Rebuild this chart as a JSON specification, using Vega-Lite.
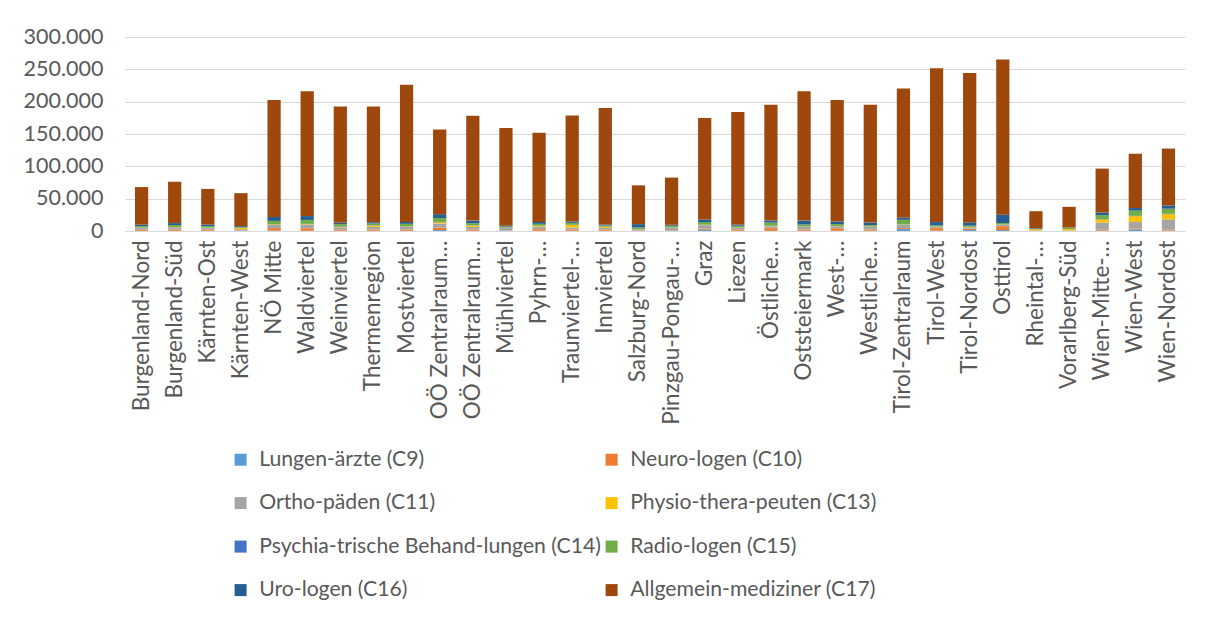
{
  "$schema": "https://vega.github.io/schema/vega-lite/v6.json",
  "width": 1060,
  "height": 194,
  "autosize": "none",
  "padding": {"left": 125, "top": 37, "right": 27, "bottom": 393},
  "background": "white",
  "config": {
    "font": "Lato",
    "view": {"stroke": null},
    "axis": {"labelFont": "Lato", "labelColor": "#595959", "labelFontSize": 21.5}
  },
  "datasets": {
    "cats": [
      {"cat": "Lungen-ärzte (C9)", "rank": 1},
      {"cat": "Neuro-logen (C10)", "rank": 2},
      {"cat": "Ortho-päden (C11)", "rank": 3},
      {"cat": "Physio-thera-peuten (C13)", "rank": 4},
      {"cat": "Psychia-trische Behand-lungen (C14)", "rank": 5},
      {"cat": "Radio-logen (C15)", "rank": 6},
      {"cat": "Uro-logen (C16)", "rank": 7},
      {"cat": "Allgemein-mediziner (C17)", "rank": 8}
    ]
  },
  "data": {
    "values": [
      {"r": "Burgenland-Nord", "Lungen-ärzte (C9)": 300, "Neuro-logen (C10)": 1800, "Ortho-päden (C11)": 2500, "Physio-thera-peuten (C13)": 500, "Psychia-trische Behand-lungen (C14)": 300, "Radio-logen (C15)": 2000, "Uro-logen (C16)": 2500, "Allgemein-mediziner (C17)": 58000},
      {"r": "Burgenland-Süd", "Lungen-ärzte (C9)": 300, "Neuro-logen (C10)": 2000, "Ortho-päden (C11)": 3000, "Physio-thera-peuten (C13)": 600, "Psychia-trische Behand-lungen (C14)": 300, "Radio-logen (C15)": 3000, "Uro-logen (C16)": 3000, "Allgemein-mediziner (C17)": 64000},
      {"r": "Kärnten-Ost", "Lungen-ärzte (C9)": 300, "Neuro-logen (C10)": 2000, "Ortho-päden (C11)": 2500, "Physio-thera-peuten (C13)": 500, "Psychia-trische Behand-lungen (C14)": 300, "Radio-logen (C15)": 2000, "Uro-logen (C16)": 2500, "Allgemein-mediziner (C17)": 55000},
      {"r": "Kärnten-West", "Lungen-ärzte (C9)": 300, "Neuro-logen (C10)": 500, "Ortho-päden (C11)": 2000, "Physio-thera-peuten (C13)": 2000, "Psychia-trische Behand-lungen (C14)": 200, "Radio-logen (C15)": 1000, "Uro-logen (C16)": 1500, "Allgemein-mediziner (C17)": 51000},
      {"r": "NÖ Mitte", "Lungen-ärzte (C9)": 500, "Neuro-logen (C10)": 4000, "Ortho-päden (C11)": 5000, "Physio-thera-peuten (C13)": 800, "Psychia-trische Behand-lungen (C14)": 300, "Radio-logen (C15)": 5000, "Uro-logen (C16)": 6000, "Allgemein-mediziner (C17)": 181000},
      {"r": "Waldviertel", "Lungen-ärzte (C9)": 300, "Neuro-logen (C10)": 4000, "Ortho-päden (C11)": 6000, "Physio-thera-peuten (C13)": 500, "Psychia-trische Behand-lungen (C14)": 300, "Radio-logen (C15)": 6000, "Uro-logen (C16)": 6000, "Allgemein-mediziner (C17)": 193000},
      {"r": "Weinviertel", "Lungen-ärzte (C9)": 300, "Neuro-logen (C10)": 2000, "Ortho-päden (C11)": 3500, "Physio-thera-peuten (C13)": 500, "Psychia-trische Behand-lungen (C14)": 300, "Radio-logen (C15)": 4000, "Uro-logen (C16)": 2000, "Allgemein-mediziner (C17)": 180000},
      {"r": "Thermenregion", "Lungen-ärzte (C9)": 300, "Neuro-logen (C10)": 2000, "Ortho-päden (C11)": 4000, "Physio-thera-peuten (C13)": 2000, "Psychia-trische Behand-lungen (C14)": 300, "Radio-logen (C15)": 3000, "Uro-logen (C16)": 2000, "Allgemein-mediziner (C17)": 179000},
      {"r": "Mostviertel", "Lungen-ärzte (C9)": 300, "Neuro-logen (C10)": 2000, "Ortho-päden (C11)": 4000, "Physio-thera-peuten (C13)": 500, "Psychia-trische Behand-lungen (C14)": 300, "Radio-logen (C15)": 4000, "Uro-logen (C16)": 3000, "Allgemein-mediziner (C17)": 212000},
      {"r": "OÖ Zentralraum Linz", "Lungen-ärzte (C9)": 1500, "Neuro-logen (C10)": 4000, "Ortho-päden (C11)": 6000, "Physio-thera-peuten (C13)": 2000, "Psychia-trische Behand-lungen (C14)": 500, "Radio-logen (C15)": 6000, "Uro-logen (C16)": 6000, "Allgemein-mediziner (C17)": 131000},
      {"r": "OÖ Zentralraum Wels", "Lungen-ärzte (C9)": 300, "Neuro-logen (C10)": 2000, "Ortho-päden (C11)": 4000, "Physio-thera-peuten (C13)": 2000, "Psychia-trische Behand-lungen (C14)": 300, "Radio-logen (C15)": 3500, "Uro-logen (C16)": 4000, "Allgemein-mediziner (C17)": 162000},
      {"r": "Mühlviertel", "Lungen-ärzte (C9)": 200, "Neuro-logen (C10)": 500, "Ortho-päden (C11)": 4000, "Physio-thera-peuten (C13)": 300, "Psychia-trische Behand-lungen (C14)": 200, "Radio-logen (C15)": 1500, "Uro-logen (C16)": 1500, "Allgemein-mediziner (C17)": 151000},
      {"r": "Pyhrn-Eisenwurzen", "Lungen-ärzte (C9)": 300, "Neuro-logen (C10)": 2500, "Ortho-päden (C11)": 4000, "Physio-thera-peuten (C13)": 1000, "Psychia-trische Behand-lungen (C14)": 300, "Radio-logen (C15)": 3000, "Uro-logen (C16)": 3000, "Allgemein-mediziner (C17)": 138000},
      {"r": "Traunviertel-Salzkammergut", "Lungen-ärzte (C9)": 300, "Neuro-logen (C10)": 2000, "Ortho-päden (C11)": 3000, "Physio-thera-peuten (C13)": 4000, "Psychia-trische Behand-lungen (C14)": 300, "Radio-logen (C15)": 3000, "Uro-logen (C16)": 2000, "Allgemein-mediziner (C17)": 164000},
      {"r": "Innviertel", "Lungen-ärzte (C9)": 300, "Neuro-logen (C10)": 2000, "Ortho-päden (C11)": 2500, "Physio-thera-peuten (C13)": 1500, "Psychia-trische Behand-lungen (C14)": 300, "Radio-logen (C15)": 2000, "Uro-logen (C16)": 1500, "Allgemein-mediziner (C17)": 180000},
      {"r": "Salzburg-Nord", "Lungen-ärzte (C9)": 300, "Neuro-logen (C10)": 500, "Ortho-päden (C11)": 1500, "Physio-thera-peuten (C13)": 500, "Psychia-trische Behand-lungen (C14)": 300, "Radio-logen (C15)": 2500, "Uro-logen (C16)": 5000, "Allgemein-mediziner (C17)": 60000},
      {"r": "Pinzgau-Pongau-Lungau", "Lungen-ärzte (C9)": 300, "Neuro-logen (C10)": 500, "Ortho-päden (C11)": 4000, "Physio-thera-peuten (C13)": 500, "Psychia-trische Behand-lungen (C14)": 300, "Radio-logen (C15)": 2500, "Uro-logen (C16)": 1500, "Allgemein-mediziner (C17)": 73000},
      {"r": "Graz", "Lungen-ärzte (C9)": 2000, "Neuro-logen (C10)": 2000, "Ortho-päden (C11)": 5000, "Physio-thera-peuten (C13)": 500, "Psychia-trische Behand-lungen (C14)": 300, "Radio-logen (C15)": 4000, "Uro-logen (C16)": 4000, "Allgemein-mediziner (C17)": 157000},
      {"r": "Liezen", "Lungen-ärzte (C9)": 300, "Neuro-logen (C10)": 2000, "Ortho-päden (C11)": 2500, "Physio-thera-peuten (C13)": 500, "Psychia-trische Behand-lungen (C14)": 300, "Radio-logen (C15)": 2500, "Uro-logen (C16)": 2000, "Allgemein-mediziner (C17)": 174000},
      {"r": "Östliche Obersteiermark", "Lungen-ärzte (C9)": 300, "Neuro-logen (C10)": 4000, "Ortho-päden (C11)": 3000, "Physio-thera-peuten (C13)": 500, "Psychia-trische Behand-lungen (C14)": 300, "Radio-logen (C15)": 5000, "Uro-logen (C16)": 3000, "Allgemein-mediziner (C17)": 179000},
      {"r": "Oststeiermark", "Lungen-ärzte (C9)": 300, "Neuro-logen (C10)": 2000, "Ortho-päden (C11)": 4000, "Physio-thera-peuten (C13)": 500, "Psychia-trische Behand-lungen (C14)": 300, "Radio-logen (C15)": 3000, "Uro-logen (C16)": 6000, "Allgemein-mediziner (C17)": 200000},
      {"r": "West-/Südsteiermark", "Lungen-ärzte (C9)": 300, "Neuro-logen (C10)": 4000, "Ortho-päden (C11)": 2500, "Physio-thera-peuten (C13)": 500, "Psychia-trische Behand-lungen (C14)": 300, "Radio-logen (C15)": 3000, "Uro-logen (C16)": 4000, "Allgemein-mediziner (C17)": 188000},
      {"r": "Westliche Obersteiermark", "Lungen-ärzte (C9)": 300, "Neuro-logen (C10)": 2000, "Ortho-päden (C11)": 4000, "Physio-thera-peuten (C13)": 500, "Psychia-trische Behand-lungen (C14)": 300, "Radio-logen (C15)": 2000, "Uro-logen (C16)": 4000, "Allgemein-mediziner (C17)": 182000},
      {"r": "Tirol-Zentralraum", "Lungen-ärzte (C9)": 3000, "Neuro-logen (C10)": 1500, "Ortho-päden (C11)": 5000, "Physio-thera-peuten (C13)": 500, "Psychia-trische Behand-lungen (C14)": 300, "Radio-logen (C15)": 7000, "Uro-logen (C16)": 3000, "Allgemein-mediziner (C17)": 200000},
      {"r": "Tirol-West", "Lungen-ärzte (C9)": 500, "Neuro-logen (C10)": 4000, "Ortho-päden (C11)": 1500, "Physio-thera-peuten (C13)": 500, "Psychia-trische Behand-lungen (C14)": 300, "Radio-logen (C15)": 2000, "Uro-logen (C16)": 5000, "Allgemein-mediziner (C17)": 238000},
      {"r": "Tirol-Nordost", "Lungen-ärzte (C9)": 1500, "Neuro-logen (C10)": 2000, "Ortho-päden (C11)": 2000, "Physio-thera-peuten (C13)": 500, "Psychia-trische Behand-lungen (C14)": 300, "Radio-logen (C15)": 2000, "Uro-logen (C16)": 5000, "Allgemein-mediziner (C17)": 231000},
      {"r": "Osttirol", "Lungen-ärzte (C9)": 1500, "Neuro-logen (C10)": 6000, "Ortho-päden (C11)": 2000, "Physio-thera-peuten (C13)": 500, "Psychia-trische Behand-lungen (C14)": 300, "Radio-logen (C15)": 2000, "Uro-logen (C16)": 13000, "Allgemein-mediziner (C17)": 240000},
      {"r": "Rheintal-Bregenzerwald", "Lungen-ärzte (C9)": 200, "Neuro-logen (C10)": 200, "Ortho-päden (C11)": 500, "Physio-thera-peuten (C13)": 2000, "Psychia-trische Behand-lungen (C14)": 200, "Radio-logen (C15)": 500, "Uro-logen (C16)": 1000, "Allgemein-mediziner (C17)": 26000},
      {"r": "Vorarlberg-Süd", "Lungen-ärzte (C9)": 200, "Neuro-logen (C10)": 200, "Ortho-päden (C11)": 500, "Physio-thera-peuten (C13)": 2000, "Psychia-trische Behand-lungen (C14)": 200, "Radio-logen (C15)": 2000, "Uro-logen (C16)": 300, "Allgemein-mediziner (C17)": 32000},
      {"r": "Wien-Mitte-Südost", "Lungen-ärzte (C9)": 500, "Neuro-logen (C10)": 1500, "Ortho-päden (C11)": 11000, "Physio-thera-peuten (C13)": 5000, "Psychia-trische Behand-lungen (C14)": 500, "Radio-logen (C15)": 6000, "Uro-logen (C16)": 4000, "Allgemein-mediziner (C17)": 68000},
      {"r": "Wien-West", "Lungen-ärzte (C9)": 2500, "Neuro-logen (C10)": 1500, "Ortho-päden (C11)": 10000, "Physio-thera-peuten (C13)": 9000, "Psychia-trische Behand-lungen (C14)": 500, "Radio-logen (C15)": 8000, "Uro-logen (C16)": 4000, "Allgemein-mediziner (C17)": 84000},
      {"r": "Wien-Nordost", "Lungen-ärzte (C9)": 500, "Neuro-logen (C10)": 1500, "Ortho-päden (C11)": 16000, "Physio-thera-peuten (C13)": 8000, "Psychia-trische Behand-lungen (C14)": 500, "Radio-logen (C15)": 8000, "Uro-logen (C16)": 5000, "Allgemein-mediziner (C17)": 88000}
    ]
  },
  "transform": [
    {"fold": ["Lungen-ärzte (C9)", "Neuro-logen (C10)", "Ortho-päden (C11)", "Physio-thera-peuten (C13)", "Psychia-trische Behand-lungen (C14)", "Radio-logen (C15)", "Uro-logen (C16)", "Allgemein-mediziner (C17)"], "as": ["cat", "value"]},
    {"lookup": "cat", "from": {"data": {"name": "cats"}, "key": "cat", "fields": ["rank"]}}
  ],
  "mark": {"type": "bar"},
  "encoding": {
    "x": {
      "field": "r", "type": "nominal", "sort": null,
      "scale": {"paddingInner": 0.6, "paddingOuter": 0.3},
      "axis": {
        "title": null, "labelAngle": -90, "labelPadding": 9, "ticks": false,
        "labelFontSize": 22.5,
        "domainColor": "#D9D9D9", "labelLimit": 400, "labelOverlap": false,
        "labelExpr": "({'OÖ Zentralraum Linz':'OÖ Zentralraum…','OÖ Zentralraum Wels':'OÖ Zentralraum…','Pyhrn-Eisenwurzen':'Pyhrn-…','Traunviertel-Salzkammergut':'Traunviertel-…','Pinzgau-Pongau-Lungau':'Pinzgau-Pongau-…','Östliche Obersteiermark':'Östliche…','West-/Südsteiermark':'West-…','Westliche Obersteiermark':'Westliche…','Rheintal-Bregenzerwald':'Rheintal-…','Wien-Mitte-Südost':'Wien-Mitte-…'})[datum.value] || datum.label"
      }
    },
    "y": {
      "field": "value", "type": "quantitative", "stack": "zero",
      "scale": {"domain": [0, 300000]},
      "axis": {
        "title": null, "values": [0, 50000, 100000, 150000, 200000, 250000, 300000],
        "domain": false, "ticks": false, "labelPadding": 22, "labelOverlap": false,
        "gridColor": "#D9D9D9",
        "labelExpr": "replace(format(datum.value, ','), ',', '.')"
      }
    },
    "order": {"field": "rank", "type": "quantitative", "sort": "ascending"},
    "color": {
      "field": "cat", "type": "nominal",
      "scale": {
        "domain": ["Lungen-ärzte (C9)", "Neuro-logen (C10)", "Ortho-päden (C11)", "Physio-thera-peuten (C13)", "Psychia-trische Behand-lungen (C14)", "Radio-logen (C15)", "Uro-logen (C16)", "Allgemein-mediziner (C17)"],
        "range": ["#5B9BD5", "#ED7D31", "#A5A5A5", "#FFC000", "#4472C4", "#70AD47", "#255E91", "#9E480E"]
      },
      "legend": {
        "title": null, "orient": "none", "legendX": 105, "legendY": 412,
        "direction": "horizontal",
        "columns": 2, "columnPadding": 0, "rowPadding": 21.5,
        "symbolType": "square", "symbolSize": 144, "symbolStrokeWidth": 0,
        "labelFont": "Lato", "labelFontSize": 21.2, "labelColor": "#595959", "labelLimit": 500, "labelOffset": 8
      }
    }
  }
}
